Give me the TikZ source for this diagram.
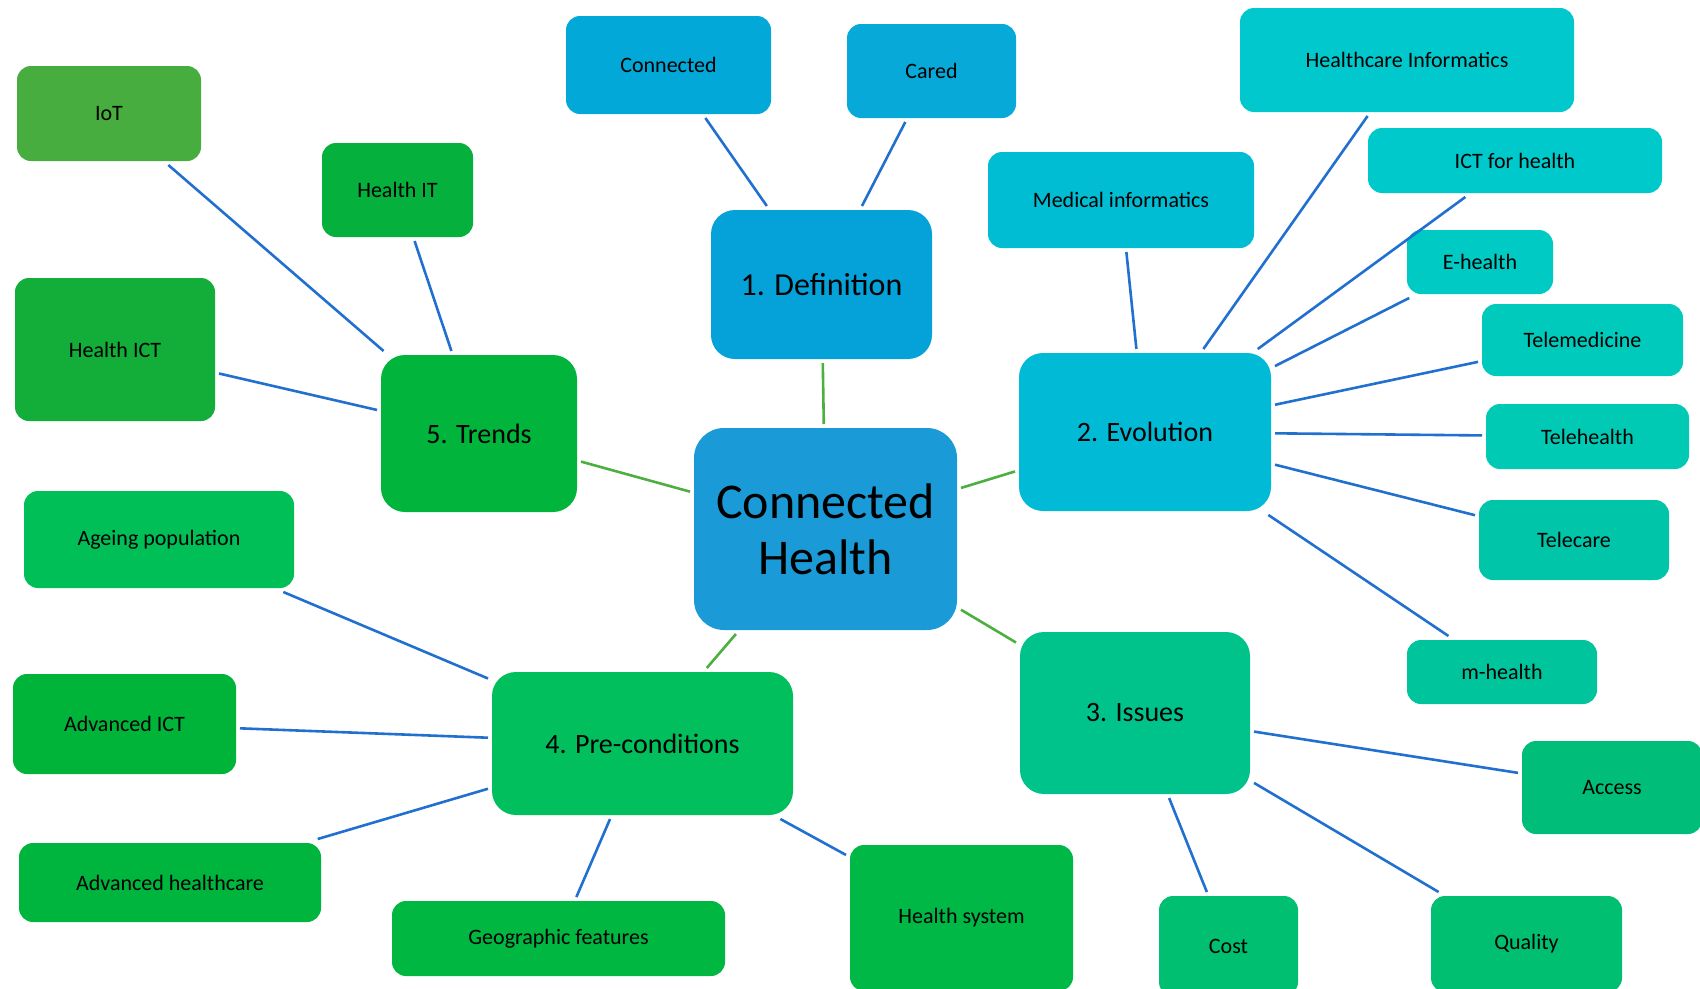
\documentclass[tikz,border=0pt]{standalone}
\usepackage{fontspec}
\setmainfont{Carlito}
\definecolor{cCH}{HTML}{1A9BD7}
\definecolor{cDef}{HTML}{05A2D9}
\definecolor{cConn}{HTML}{02A9D8}
\definecolor{cCared}{HTML}{06A9D8}
\definecolor{cEvo}{HTML}{00BAD6}
\definecolor{cMed}{HTML}{00BDD3}
\definecolor{cHI}{HTML}{00C8CD}
\definecolor{cICT}{HTML}{00C9CB}
\definecolor{cEH}{HTML}{00CAC4}
\definecolor{cTM}{HTML}{00CABC}
\definecolor{cTH}{HTML}{00C9B4}
\definecolor{cTC}{HTML}{00C5A8}
\definecolor{cMH}{HTML}{00C49C}
\definecolor{cIss}{HTML}{00C38B}
\definecolor{cAcc}{HTML}{00BE79}
\definecolor{cCost}{HTML}{00BF70}
\definecolor{cQual}{HTML}{00BF71}
\definecolor{cHS}{HTML}{00B845}
\definecolor{cGeo}{HTML}{00B741}
\definecolor{cPre}{HTML}{00BF5C}
\definecolor{cAHC}{HTML}{00B53D}
\definecolor{cAICT}{HTML}{00B43A}
\definecolor{cAge}{HTML}{00BF57}
\definecolor{cTr}{HTML}{00B43C}
\definecolor{cHICT}{HTML}{13AD3A}
\definecolor{cIoT}{HTML}{46AD3E}
\definecolor{cHIT}{HTML}{05B03C}
\definecolor{lblue}{HTML}{2170D0}
\definecolor{lgreen}{HTML}{4CB041}
\tikzset{
  box/.style={draw=none, rectangle, inner sep=0pt, outer sep=4pt, align=center, text=black},
  leaf/.style={box, rounded corners=14pt, font=\fontsize{22}{26}\selectfont},
  mainbox/.style={box, rounded corners=24pt, font=\fontsize{28}{33}\selectfont},
  hub/.style={box, rounded corners=30pt, font=\fontsize{50}{56}\selectfont},
  bl/.style={draw=lblue, line width=2.6pt},
  gl/.style={draw=lgreen, line width=2.6pt},
}
\begin{document}
\begin{tikzpicture}[x=1pt,y=-1pt]
\useasboundingbox (0,0) rectangle (1700,988);
\clip (0,0) rectangle (1700,988);
% hub
\node[hub, fill=cCH, minimum width=263pt, minimum height=202pt] (ch) at (825.5,529) {Connected\\Health};
% main nodes
\node[mainbox, fill=cDef, minimum width=221pt, minimum height=149pt, font=\fontsize{32}{38}\selectfont] (def) at (821.5,284.5) {1. Definition};
\node[mainbox, fill=cEvo, minimum width=252pt, minimum height=158pt] (evo) at (1145,432) {2. Evolution};
\node[mainbox, fill=cIss, minimum width=230pt, minimum height=162pt] (iss) at (1135,713) {3. Issues};
\node[mainbox, fill=cPre, minimum width=301pt, minimum height=143pt] (pre) at (642.5,743.5) {4. Pre-conditions};
\node[mainbox, fill=cTr, minimum width=196pt, minimum height=157pt] (tr) at (479,433.5) {5. Trends};
% definition leaves
\node[leaf, fill=cConn, minimum width=205pt, minimum height=98pt] (conn) at (668.5,65) {Connected};
\node[leaf, fill=cCared, minimum width=169pt, minimum height=94pt] (cared) at (931.5,71) {Cared};
% evolution leaves
\node[leaf, fill=cMed, minimum width=266pt, minimum height=96pt] (med) at (1121,200) {Medical informatics};
\node[leaf, fill=cHI, minimum width=334pt, minimum height=104pt] (hi) at (1407,60) {Healthcare Informatics};
\node[leaf, fill=cICT, minimum width=294pt, minimum height=65pt] (ict) at (1515,160.5) {ICT for health};
\node[leaf, fill=cEH, minimum width=146pt, minimum height=64pt] (eh) at (1480,262) {E-health};
\node[leaf, fill=cTM, minimum width=201pt, minimum height=72pt] (tm) at (1582.5,340) {Telemedicine};
\node[leaf, fill=cTH, minimum width=203pt, minimum height=65pt] (th) at (1587.5,436.5) {Telehealth};
\node[leaf, fill=cTC, minimum width=190pt, minimum height=80pt] (tc) at (1574,540) {Telecare};
\node[leaf, fill=cMH, minimum width=190pt, minimum height=64pt] (mh) at (1502,672) {m-health};
% issues leaves
\node[leaf, fill=cAcc, minimum width=180pt, minimum height=93pt] (acc) at (1612,787.5) {Access};
\node[leaf, fill=cCost, minimum width=139pt, minimum height=100pt] (cost) at (1228.5,946) {Cost};
\node[leaf, fill=cQual, minimum width=191pt, minimum height=96pt] (qual) at (1526.5,944) {Quality};
% pre-conditions leaves
\node[leaf, fill=cHS, minimum width=223pt, minimum height=146pt] (hs) at (961.5,918) {Health system};
\node[leaf, fill=cGeo, minimum width=333pt, minimum height=75pt] (geo) at (558.5,938.5) {Geographic features};
\node[leaf, fill=cAHC, minimum width=302pt, minimum height=79pt] (ahc) at (170,882.5) {Advanced healthcare};
\node[leaf, fill=cAICT, minimum width=223pt, minimum height=100pt] (aict) at (124.5,724) {Advanced ICT};
\node[leaf, fill=cAge, minimum width=270pt, minimum height=97pt] (age) at (159,539.5) {Ageing population};
% trends leaves
\node[leaf, fill=cIoT, minimum width=184pt, minimum height=95pt] (iot) at (109,113.5) {IoT};
\node[leaf, fill=cHIT, minimum width=151pt, minimum height=94pt] (hit) at (397.5,190) {Health IT};
\node[leaf, fill=cHICT, minimum width=200pt, minimum height=143pt] (hict) at (115,349.5) {Health ICT};
% green connectors
\draw[gl] (ch) -- (def);
\draw[gl] (ch) -- (evo);
\draw[gl] (ch) -- (iss);
\draw[gl] (ch) -- (pre);
\draw[gl] (ch) -- (tr);
% blue connectors
\draw[bl] (def) -- (conn);
\draw[bl] (def) -- (cared);
\draw[bl] (evo) -- (med);
\draw[bl] (evo) -- (hi);
\draw[bl] (evo) -- (ict);
\draw[bl] (evo) -- (eh);
\draw[bl] (evo) -- (tm);
\draw[bl] (evo) -- (th);
\draw[bl] (evo) -- (tc);
\draw[bl] (evo) -- (mh);
\draw[bl] (iss) -- (acc);
\draw[bl] (iss) -- (cost);
\draw[bl] (iss) -- (qual);
\draw[bl] (pre) -- (hs);
\draw[bl] (pre) -- (geo);
\draw[bl] (pre) -- (ahc);
\draw[bl] (pre) -- (aict);
\draw[bl] (pre) -- (age);
\draw[bl] (tr) -- (iot);
\draw[bl] (tr) -- (hit);
\draw[bl] (tr) -- (hict);
\end{tikzpicture}
\end{document}
